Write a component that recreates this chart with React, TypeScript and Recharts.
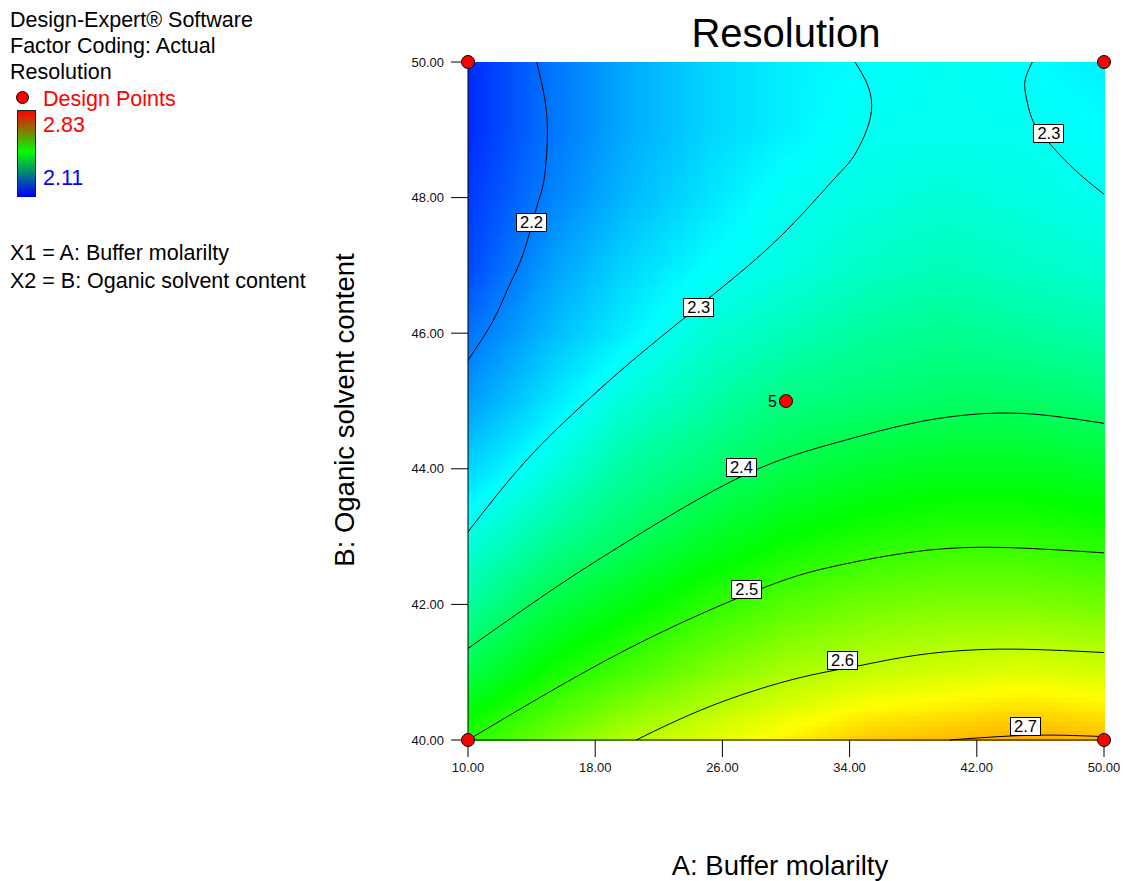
import React from "react";
import { ScatterChart, Scatter, XAxis, YAxis } from "recharts";

const FONT = "Arial, 'Liberation Sans', Helvetica, sans-serif";

// factor levels of the response grid
const A_LEVELS = [10, 15, 20, 25, 30, 35, 40, 45, 50];
const B_LEVELS = [40, 41, 42, 43, 44, 45, 46, 47, 48, 49, 50];

// predicted Resolution, one row per B level (40 -> 50), columns follow A_LEVELS
const RESOLUTION = [
  [2.5, 2.55, 2.6, 2.63, 2.66, 2.69, 2.7, 2.71, 2.7],
  [2.42, 2.48, 2.52, 2.56, 2.59, 2.61, 2.62, 2.63, 2.62],
  [2.36, 2.42, 2.46, 2.5, 2.53, 2.55, 2.56, 2.56, 2.55],
  [2.31, 2.36, 2.4, 2.44, 2.47, 2.49, 2.5, 2.5, 2.49],
  [2.26, 2.31, 2.36, 2.39, 2.42, 2.44, 2.45, 2.45, 2.44],
  [2.22, 2.27, 2.32, 2.35, 2.38, 2.39, 2.4, 2.4, 2.39],
  [2.19, 2.24, 2.28, 2.32, 2.34, 2.36, 2.37, 2.36, 2.35],
  [2.16, 2.22, 2.26, 2.29, 2.31, 2.33, 2.34, 2.33, 2.32],
  [2.15, 2.2, 2.24, 2.27, 2.3, 2.31, 2.32, 2.31, 2.3],
  [2.14, 2.19, 2.23, 2.26, 2.28, 2.3, 2.3, 2.3, 2.29],
  [2.14, 2.19, 2.23, 2.26, 2.28, 2.29, 2.3, 2.29, 2.28],
];

const X_TICKS = [10, 18, 26, 34, 42, 50];
const Y_TICKS = [40, 42, 44, 46, 48, 50];

const COLOR_MIN = 2.11;
const COLOR_MAX = 2.83;

// contour traces as [A, B] pairs
const CONTOUR_22 = [
  [14.32, 50], [14.84, 49.44], [14.99, 48.89], [14.78, 48.26], [14.32, 47.86],
  [13.48, 47.18], [12.53, 46.67], [11.59, 46.19], [10, 45.6],
];
const CONTOUR_23_LEFT = [
  [10, 43.07], [13.69, 44.13], [17.47, 45.0], [20.82, 45.69], [25.43, 46.57],
  [29.62, 47.42], [32.97, 48.26], [34.23, 48.6], [35.08, 49.0], [35.39, 49.37],
  [35.08, 49.69], [34.34, 50],
];
const CONTOUR_23_RIGHT = [
  [45.49, 50], [45.09, 49.78], [45.03, 49.59], [45.24, 49.34], [45.55, 49.12],
  [45.97, 48.98], [46.5, 48.82], [48.07, 48.43], [50, 48.05],
];
const CONTOUR_24 = [
  [10, 41.35], [15.26, 42.21], [20.19, 42.95], [27.22, 43.89], [33.08, 44.38],
  [38.32, 44.69], [43.04, 44.82], [46.71, 44.78], [50, 44.67],
];
const CONTOUR_25 = [
  [10, 40], [19.94, 41.33], [28.42, 42.23], [32.99, 42.56],
  [38.2, 42.78], [43.52, 42.84], [50, 42.76],
];
const CONTOUR_26 = [
  [20.58, 40], [25.16, 40.49], [30.38, 40.89], [34.47, 41.09], [38.2, 41.25],
  [43.42, 41.34], [50, 41.29],
];
const CONTOUR_27 = [[40.29, 40], [44.21, 40.06], [47.34, 40.07], [50, 40.05]];

const CONTOURS = [
  { level: 2.2, trace: CONTOUR_22 },
  { level: 2.3, trace: CONTOUR_23_LEFT },
  { level: 2.3, trace: CONTOUR_23_RIGHT },
  { level: 2.4, trace: CONTOUR_24 },
  { level: 2.5, trace: CONTOUR_25 },
  { level: 2.6, trace: CONTOUR_26 },
  { level: 2.7, trace: CONTOUR_27 },
];

const CONTOUR_LABELS = [
  { a: 13.96, b: 47.64, level: 2.2 },
  { a: 24.48, b: 46.38, level: 2.3 },
  { a: 46.5, b: 48.96, level: 2.3 },
  { a: 27.16, b: 44.02, level: 2.4 },
  { a: 27.5, b: 42.22, level: 2.5 },
  { a: 33.52, b: 41.18, level: 2.6 },
  { a: 45.03, b: 40.21, level: 2.7 },
];

const DESIGN_POINTS = [
  { a: 10, b: 50, runs: 1 },
  { a: 50, b: 50, runs: 1 },
  { a: 10, b: 40, runs: 1 },
  { a: 50, b: 40, runs: 1 },
  { a: 30, b: 45, runs: 5 },
];

// plot box inside the 1123 x 881 chart
const CHART_W = 1123;
const CHART_H = 881;
const PLOT_LEFT = 468;
const PLOT_RIGHT = 1104;
const PLOT_TOP = 62;
const PLOT_BOTTOM = 740;
const Y_AXIS_W = 60;
const X_AXIS_H = 40;

const STEP_X = (PLOT_RIGHT - PLOT_LEFT) / (A_LEVELS.length - 1);
const STEP_Y = (PLOT_BOTTOM - PLOT_TOP) / (B_LEVELS.length - 1);
const SUB_X = 16;
const SUB_Y = 14;

const STOPS = [
  [0, 0, 255],
  [0, 255, 255],
  [0, 255, 0],
  [255, 255, 0],
  [255, 0, 0],
];

function colorFor(v: number) {
  let t = (v - COLOR_MIN) / (COLOR_MAX - COLOR_MIN);
  t = Math.max(0, Math.min(1, t)) * (STOPS.length - 1);
  const k = Math.min(STOPS.length - 2, Math.floor(t));
  const f = t - k;
  const c0 = STOPS[k];
  const c1 = STOPS[k + 1];
  const mix = (n: number) => Math.round(c0[n] + (c1[n] - c0[n]) * f);
  return `rgb(${mix(0)},${mix(1)},${mix(2)})`;
}

const FIELD_NODES = B_LEVELS.flatMap((b, j) =>
  A_LEVELS.map((a, i) => ({ a, b, i, j }))
);

const toPoints = (trace: number[][]) => trace.map(([a, b]) => ({ a, b }));

// shades the cell whose lower-left corner is this node
function FieldPatch(props: any) {
  const { cx, cy, payload } = props;
  const { i, j } = payload;
  if (i >= A_LEVELS.length - 1 || j >= B_LEVELS.length - 1) return <g />;
  const v00 = RESOLUTION[j][i];
  const v10 = RESOLUTION[j][i + 1];
  const v01 = RESOLUTION[j + 1][i];
  const v11 = RESOLUTION[j + 1][i + 1];
  const w = STEP_X / SUB_X;
  const h = STEP_Y / SUB_Y;
  const cells = [];
  for (let l = 0; l < SUB_Y; l++) {
    const s = (l + 0.5) / SUB_Y;
    for (let k = 0; k < SUB_X; k++) {
      const u = (k + 0.5) / SUB_X;
      const v =
        v00 * (1 - u) * (1 - s) + v10 * u * (1 - s) + v01 * (1 - u) * s + v11 * u * s;
      cells.push(
        <rect
          key={`${k}-${l}`}
          x={cx + k * w}
          y={cy - (l + 1) * h}
          width={w + 0.6}
          height={h + 0.6}
          fill={colorFor(v)}
        />
      );
    }
  }
  return <g shapeRendering="crispEdges">{cells}</g>;
}

const NoMarker = () => <g />;

function ContourTag(props: any) {
  const { cx, cy, payload } = props;
  const w = 30;
  const h = 18;
  return (
    <g>
      <rect
        x={Math.round(cx - w / 2) + 0.5}
        y={Math.round(cy - h / 2) + 0.5}
        width={w}
        height={h}
        fill="#fff"
        stroke="#000"
        strokeWidth={1}
      />
      <text
        x={cx + 0.5}
        y={cy + 6}
        textAnchor="middle"
        fontSize={16.5}
        fontFamily={FONT}
        fill="#000"
      >
        {payload.level.toFixed(1)}
      </text>
    </g>
  );
}

function DesignPoint(props: any) {
  const { cx, cy, payload } = props;
  return (
    <g>
      <circle cx={cx} cy={cy} r={6.5} fill="#ff0000" stroke="#000" strokeWidth={1} />
      {payload.runs > 1 && (
        <text
          x={cx - 9}
          y={cy + 5.5}
          textAnchor="end"
          fontSize={16}
          fontFamily={FONT}
          fill="#000"
        >
          {payload.runs}
        </text>
      )}
    </g>
  );
}

function Note({
  x,
  baseline,
  size,
  color = "#000",
  children,
}: {
  x: number;
  baseline: number;
  size: number;
  color?: string;
  children: React.ReactNode;
}) {
  return (
    <div
      style={{
        position: "absolute",
        left: x,
        top: baseline - 0.8465 * size,
        fontSize: size,
        lineHeight: `${size}px`,
        color,
        whiteSpace: "nowrap",
      }}
    >
      {children}
    </div>
  );
}

const tickStyle = { fill: "#111", fontSize: 13, fontFamily: FONT };

export default function App() {
  return (
    <div
      style={{
        position: "absolute",
        left: 0,
        top: 0,
        width: CHART_W,
        height: CHART_H,
        background: "#fff",
        fontFamily: FONT,
        overflow: "hidden",
      }}
    >
      <div style={{ position: "absolute", left: 0, top: 0 }}>
        <ScatterChart
          width={CHART_W}
          height={CHART_H}
          margin={{
            top: PLOT_TOP,
            right: CHART_W - PLOT_RIGHT,
            bottom: CHART_H - PLOT_BOTTOM - X_AXIS_H,
            left: PLOT_LEFT - Y_AXIS_W,
          }}
        >
          <Scatter
            data={FIELD_NODES}
            shape={FieldPatch}
            isAnimationActive={false}
            zIndex={100}
          />
          <XAxis
            type="number"
            dataKey="a"
            domain={[10, 50]}
            ticks={X_TICKS}
            interval={0}
            tickFormatter={(v: number) => v.toFixed(2)}
            height={X_AXIS_H}
            tickSize={17}
            tickMargin={6}
            tick={tickStyle}
            axisLine={{ stroke: "#000" }}
            tickLine={{ stroke: "#000" }}
          />
          <YAxis
            type="number"
            dataKey="b"
            domain={[40, 50]}
            ticks={Y_TICKS}
            interval={0}
            tickFormatter={(v: number) => v.toFixed(2)}
            width={Y_AXIS_W}
            tickSize={17}
            tickMargin={7}
            tick={tickStyle}
            axisLine={{ stroke: "#000" }}
            tickLine={{ stroke: "#000" }}
          />
          <XAxis
            xAxisId="top"
            orientation="top"
            type="number"
            domain={[10, 50]}
            height={0}
            tick={false}
            tickLine={false}
            axisLine={{ stroke: "#555" }}
          />
          <YAxis
            yAxisId="right"
            orientation="right"
            type="number"
            domain={[40, 50]}
            width={0}
            tick={false}
            tickLine={false}
            axisLine={{ stroke: "#222" }}
          />
          {CONTOURS.map((c, k) => (
            <Scatter
              key={k}
              name={`R ${c.level}`}
              data={toPoints(c.trace)}
              line={{ stroke: "#000", strokeWidth: 1 }}
              lineJointType="natural"
              shape={NoMarker}
              isAnimationActive={false}
            />
          ))}
          <Scatter data={CONTOUR_LABELS} shape={ContourTag} isAnimationActive={false} />
          <Scatter data={DESIGN_POINTS} shape={DesignPoint} isAnimationActive={false} />
        </ScatterChart>
      </div>

      <div
        style={{
          position: "absolute",
          left: 586,
          top: 13,
          width: 400,
          textAlign: "center",
          fontSize: 40,
          lineHeight: "40px",
          color: "#000",
        }}
      >
        Resolution
      </div>
      <div
        style={{
          position: "absolute",
          left: 580,
          top: 852,
          width: 400,
          textAlign: "center",
          fontSize: 27.5,
          lineHeight: "28px",
          color: "#000",
        }}
      >
        A: Buffer molarilty
      </div>
      <div
        style={{
          position: "absolute",
          left: 344.5 - 200,
          top: 410 - 15,
          width: 400,
          height: 30,
          textAlign: "center",
          fontSize: 27.5,
          lineHeight: "30px",
          color: "#000",
          transform: "rotate(-90deg)",
          whiteSpace: "nowrap",
        }}
      >
        B: Oganic solvent content
      </div>

      <Note x={10} baseline={28} size={21.5}>Design-Expert® Software</Note>
      <Note x={10} baseline={54} size={21.5}>Factor Coding: Actual</Note>
      <Note x={10} baseline={80} size={21.5}>Resolution</Note>
      <div
        style={{
          position: "absolute",
          left: 16,
          top: 91,
          width: 13,
          height: 13,
          boxSizing: "border-box",
          borderRadius: "50%",
          background: "#ff0000",
          border: "1px solid #000",
        }}
      />
      <Note x={43} baseline={107} size={21.5} color="#ff0000">Design Points</Note>
      <div
        style={{
          position: "absolute",
          left: 17,
          top: 110,
          width: 19,
          height: 87,
          boxSizing: "border-box",
          border: "1px solid #222",
          borderBottomColor: "#0000ff",
          background: "linear-gradient(to bottom, #ff0000, #00ff00 48%, #0000ff)",
        }}
      />
      <Note x={43} baseline={133} size={21.5} color="#ff0000">{COLOR_MAX.toFixed(2)}</Note>
      <Note x={43} baseline={186} size={21.5} color="#0000ff">{COLOR_MIN.toFixed(2)}</Note>
      <Note x={10} baseline={261} size={21.5}>X1 = A: Buffer molarilty</Note>
      <Note x={10} baseline={289} size={21.5}>X2 = B: Oganic solvent content</Note>
    </div>
  );
}
